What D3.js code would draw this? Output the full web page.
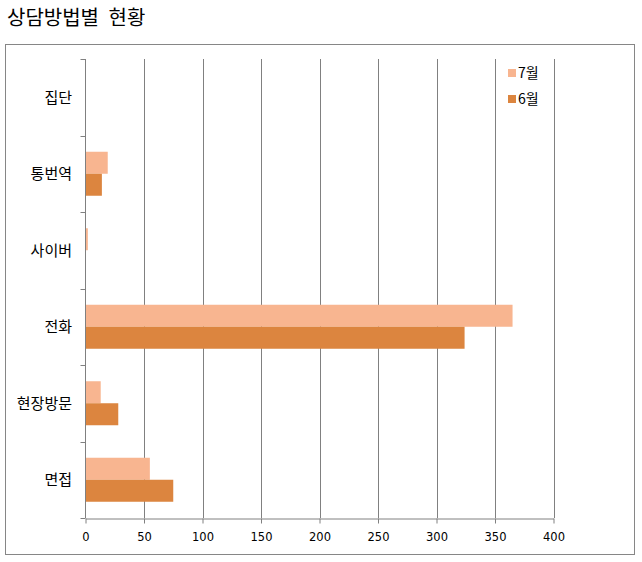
<!DOCTYPE html>
<html>
<head>
<meta charset="utf-8">
<script src="https://cdn.jsdelivr.net/npm/d3@7"></script>
<style>
body{margin:0;background:#fff;}
svg{display:block;}
</style>
</head>
<body>
<svg id="chart" width="642" height="562"></svg>
<script>
const categories = ["집단","통번역","사이버","전화","현장방문","면접"];
const seriesNames = ["7월","6월"];
const july = [0, 19, 2, 365, 13, 55];
const june = [0, 14, 0, 324, 28, 75];
const xTicks = [0,50,100,150,200,250,300,350,400];
const colors = ["#F8B590","#DC853F"];

const svg = d3.select("#chart");
const krFont = "'Noto Sans CJK KR', 'Malgun Gothic', sans-serif";
const numFont = "'DejaVu Sans', Tahoma, sans-serif";

// outer border
svg.append("rect").attr("x",5.5).attr("y",44.5).attr("width",629).attr("height",510)
  .attr("fill","none").attr("stroke","#868686").attr("stroke-width",1);

// title
svg.append("text").attr("x",7).attr("y",25).text("상담방법별 현황")
  .attr("font-family",krFont).attr("font-size",20).attr("word-spacing",5).attr("fill","#000");

const plot = {left:85.5, right:553.5, top:59, bottom:518};
const x = d3.scaleLinear().domain([0,400]).range([plot.left, plot.right]);
const y = d3.scaleBand().domain(categories).range([plot.top, plot.bottom]).padding(0);
const sub = d3.scaleBand().domain(seriesNames).range([-22,22]).padding(0);

// gridlines
svg.append("g").selectAll("line").data(xTicks.slice(1)).join("line")
  .attr("x1",d=>Math.round(x(d))+0.5).attr("x2",d=>Math.round(x(d))+0.5)
  .attr("y1",plot.top).attr("y2",plot.bottom)
  .attr("stroke","#808080").attr("stroke-width",1);

// bars
const data = categories.map((c,i)=>({cat:c, vals:[july[i], june[i]]}));
const groups = svg.append("g").selectAll("g").data(data).join("g")
  .attr("transform",d=>`translate(0,${y(d.cat)+y.bandwidth()/2})`);
groups.selectAll("rect").data(d=>d.vals.map((v,j)=>({v, s:seriesNames[j], j})).filter(e=>e.v>0)).join("rect")
  .attr("x",x(0)).attr("y",e=>sub(e.s)).attr("height",sub.bandwidth())
  .attr("width",e=>x(e.v)-x(0)).attr("fill",e=>colors[e.j]);

// left axis
const yAxis = svg.append("g");
yAxis.append("line").attr("x1",plot.left).attr("x2",plot.left).attr("y1",plot.top).attr("y2",plot.bottom)
  .attr("stroke","#808080");
const boundaries = categories.map(c=>y(c)).concat([plot.bottom]);
yAxis.selectAll("line.tk").data(boundaries).join("line").attr("class","tk")
  .attr("x1",plot.left-5).attr("x2",plot.left).attr("y1",d=>Math.round(d)+0.5).attr("y2",d=>Math.round(d)+0.5)
  .attr("stroke","#808080");
yAxis.selectAll("text").data(categories).join("text")
  .attr("x",72).attr("y",d=>y(d)+y.bandwidth()/2).attr("dy","0.35em")
  .attr("text-anchor","end").attr("font-family",krFont).attr("font-size",15).attr("fill","#000")
  .text(d=>d);

// bottom axis
const xAxis = svg.append("g").attr("transform",`translate(0,${plot.bottom+0.5})`)
  .call(d3.axisBottom(x).tickValues(xTicks).tickSize(5).tickSizeOuter(0).tickPadding(9));
xAxis.select(".domain").attr("stroke","#808080");
xAxis.selectAll(".tick line").attr("stroke","#808080");
xAxis.selectAll("text").attr("font-family",numFont).attr("font-size",11.5).attr("fill","#000");

// legend
const legend = svg.append("g");
seriesNames.forEach((s,j)=>{
  const ly = 73 + j*26;
  legend.append("rect").attr("x",508).attr("y",ly-4).attr("width",8).attr("height",8).attr("fill",colors[j]);
  legend.append("text").attr("x",518).attr("y",ly).attr("dy","0.35em")
    .attr("font-family",krFont).attr("font-size",14).attr("fill","#000").text(s);
});
</script>
</body>
</html>
